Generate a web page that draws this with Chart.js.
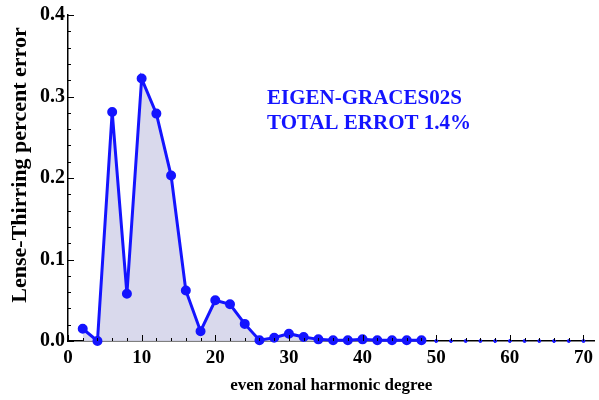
<!DOCTYPE html>
<html>
<head>
<meta charset="utf-8">
<script src="https://cdn.jsdelivr.net/npm/chart.js@4"></script>
<style>
  html, body { margin: 0; padding: 0; background: #fff; }
  #plot { display: block; }
</style>
</head>
<body>
<canvas id="plot" width="599" height="400"></canvas>
<script>
// even zonal harmonic degrees and the LT percent error for each
const degrees = [2, 4, 6, 8, 10, 12, 14, 16, 18, 20, 22, 24, 26, 28, 30, 32, 34, 36, 38, 40, 42, 44, 46, 48];
const errors = [0.015, 0.0, 0.281, 0.058, 0.322, 0.279, 0.203, 0.062, 0.012, 0.050, 0.045, 0.021, 0.001, 0.004, 0.009, 0.005, 0.002, 0.001, 0.001, 0.002, 0.001, 0.001, 0.001, 0.001];
// tail degrees that sit on the axis
const tailDegrees = [50, 52, 54, 56, 58, 60, 62, 64, 66, 68, 70];
const tailErrors = [0, 0, 0, 0, 0, 0, 0, 0, 0, 0, 0];
const xTickLabels = [0, 10, 20, 30, 40, 50, 60, 70];
const yTickLabels = [0.0, 0.1, 0.2, 0.3, 0.4];
const noteLines = ['EIGEN-GRACES02S', 'TOTAL ERROT 1.4%'];
const yTitle = 'Lense-Thirring percent error';

const serif = '"Liberation Serif", "Times New Roman", serif';
const blue = '#1414ff';

// inward tick marks like the original plot
const inwardTicks = {
  id: 'inwardTicks',
  afterDatasetsDraw(chart) {
    const ctx = chart.ctx, area = chart.chartArea;
    const xs = chart.scales.x, ys = chart.scales.y;
    ctx.save();
    ctx.strokeStyle = '#000';
    ctx.lineWidth = 1;
    xs.ticks.forEach(t => {
      const px = Math.round(xs.getPixelForValue(t.value)) + 0.5;
      const len = xTickLabels.includes(t.value) ? 6 : 3;
      ctx.beginPath();
      ctx.moveTo(px, area.bottom);
      ctx.lineTo(px, area.bottom - len);
      ctx.stroke();
    });
    ys.ticks.forEach(t => {
      const py = Math.round(ys.getPixelForValue(t.value)) + 0.5;
      const major = yTickLabels.some(v => Math.abs(v - t.value) < 1e-6);
      ctx.beginPath();
      ctx.moveTo(area.left, py);
      ctx.lineTo(area.left + (major ? 6 : 3), py);
      ctx.stroke();
    });
    ctx.restore();
  }
};

// annotation text and the y axis title (sits a bit above the centre in the original)
const labels = {
  id: 'labels',
  afterDraw(chart) {
    const ctx = chart.ctx;
    ctx.save();
    ctx.fillStyle = blue;
    ctx.font = 'bold 21px ' + serif;
    ctx.textBaseline = 'alphabetic';
    ctx.fillText(noteLines[0], 267, 104);
    ctx.fillText(noteLines[1], 267, 129);

    ctx.fillStyle = '#000';
    ctx.font = 'bold 22px ' + serif;
    ctx.translate(20, 165);
    ctx.rotate(-Math.PI / 2);
    ctx.textAlign = 'center';
    ctx.textBaseline = 'middle';
    ctx.fillText(yTitle, 0, 0);
    ctx.restore();
  }
};

new Chart(document.getElementById('plot'), {
  type: 'line',
  data: {
    datasets: [{
      data: degrees.map((d, i) => ({ x: d, y: errors[i] })),
      borderColor: blue,
      backgroundColor: 'rgba(215, 215, 235, 0.95)',
      fill: 'origin',
      borderWidth: 3,
      pointRadius: 3.5,
      pointBackgroundColor: blue,
      pointBorderColor: blue,
      tension: 0,
      clip: false
    }, {
      data: tailDegrees.map((d, i) => ({ x: d, y: tailErrors[i] })),
      showLine: false,
      pointRadius: 1.5,
      pointBackgroundColor: blue,
      pointBorderColor: blue,
      clip: false
    }]
  },
  options: {
    responsive: false,
    animation: false,
    devicePixelRatio: 1,
    layout: { autoPadding: false, padding: { top: 14, right: 1, left: 0, bottom: 0 } },
    plugins: { legend: { display: false }, tooltip: { enabled: false } },
    scales: {
      x: {
        type: 'linear',
        min: 0,
        max: 71.5,
        afterBuildTicks: s => { s.ticks = []; for (let v = 0; v <= 70; v += 2) s.ticks.push({ value: v }); },
        afterFit: s => { s.height = 59; },
        grid: { display: false, drawTicks: false },
        border: { color: '#000', width: 1.5 },
        ticks: {
          autoSkip: false,
          maxRotation: 0,
          padding: 6,
          color: '#000',
          font: { family: serif, size: 19, weight: 'bold' },
          callback: v => xTickLabels.includes(v) ? String(v) : ''
        },
        title: {
          display: true,
          text: 'even zonal harmonic degree',
          color: '#000',
          font: { family: serif, size: 17, weight: 'bold' },
          padding: { top: 2 }
        }
      },
      y: {
        min: 0,
        max: 0.4,
        afterBuildTicks: s => { s.ticks = []; for (let i = 0; i <= 20; i++) s.ticks.push({ value: +(i * 0.02).toFixed(2) }); },
        afterFit: s => { s.width = 68; },
        grid: { display: false, drawTicks: false },
        border: { color: '#000', width: 1.5 },
        ticks: {
          autoSkip: false,
          padding: 3,
          color: '#000',
          font: { family: serif, size: 20, weight: 'bold' },
          callback: v => {
            const hit = yTickLabels.find(t => Math.abs(t - v) < 1e-6);
            return hit === undefined ? '' : hit.toFixed(1);
          }
        }
      }
    }
  },
  plugins: [inwardTicks, labels]
});
</script>
</body>
</html>
